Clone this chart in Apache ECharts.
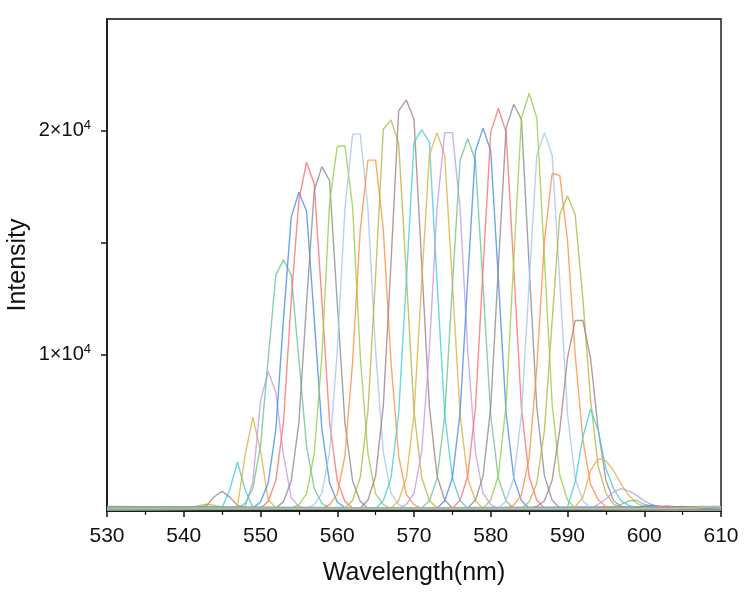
<!DOCTYPE html>
<html>
<head>
<meta charset="utf-8">
<script src="https://cdn.jsdelivr.net/npm/echarts@6/dist/echarts.min.js"></script>
<style>
  html, body { margin: 0; background: #fff; }
  #chart { width: 751px; height: 599px; }
</style>
</head>
<body>
<div id="chart"></div>
<script>
// wavelength axis (nm)
var xMin = 530, xMax = 610, xStep = 10;
// intensity axis
var yMin = 3000, yMax = 25000;
var yLabelValues = [10000, 20000];
var yTickValues = [10000, 15000, 20000];

// line colours, in the order the spectra cycle through them
var palette = ['#4a8de6', '#ff6e6e', '#8c8c8c', '#9acd45', '#a6c6ee', '#ff9040',
               '#b5b545', '#a88080', '#40d0dc', '#e0b040', '#c49ae8', '#6cc490'];

// each spectrum: first wavelength of its listed points (1 nm apart)
var peakStart = [530, 531, 533, 535, 537, 539, 539, 541, 544, 546, 547, 547, 549, 550,
                 552, 554, 556, 558, 561, 563, 565, 567, 568, 571, 573, 575, 577, 579,
                 581, 582, 584, 585, 589, 590, 593, 595, 598, 600, 602, 604, 606];

// intensities around each peak
var peakValues = [
  [3130, 3160, 3140, 3120],
  [3110, 3120, 3150, 3130, 3110],
  [3100, 3110, 3150, 3120, 3100],
  [3120, 3130, 3160, 3130, 3120],
  [3110, 3120, 3160, 3140, 3120, 3110],
  [3100, 3120, 3170, 3190, 3150, 3120, 3100],
  [3100, 3130, 3160, 3240, 3300, 3250, 3170, 3130, 3110],
  [3120, 3140, 3250, 3650, 3880, 3620, 3250, 3150, 3120],
  [3110, 3150, 3950, 5190, 3950, 3150, 3110],
  [3130, 3200, 5500, 7200, 5700, 3500, 3150, 3120],
  [3110, 3200, 4300, 7900, 9240, 8300, 5500, 3600, 3200, 3120],
  [3120, 3340, 4010, 5900, 9790, 13560, 14230, 13560, 9790, 5900, 4010, 3340, 3130],
  [3130, 3400, 4250, 6650, 11600, 16130, 17250, 16400, 11600, 6650, 4250, 3400, 3140],
  [3120, 3430, 4360, 6990, 12400, 16900, 18590, 17620, 12400, 6990, 4360, 3430, 3130],
  [3110, 3430, 4340, 6940, 12290, 17320, 18400, 17770, 12290, 6940, 4340, 3430, 3120],
  [3130, 3280, 3770, 5550, 9920, 16800, 19300, 19330, 16600, 9920, 5550, 3770, 3280, 3120],
  [3120, 3290, 3790, 5630, 10150, 16500, 19850, 19850, 16500, 10150, 5630, 3790, 3290, 3130],
  [3110, 3280, 3740, 5460, 9660, 15580, 18690, 18690, 15580, 9660, 5460, 3740, 3280, 3120],
  [3130, 3470, 4510, 7460, 13540, 20070, 20490, 19450, 13540, 7460, 4510, 3470, 3140],
  [3120, 3490, 4580, 7690, 14080, 20890, 21380, 20520, 14080, 7690, 4580, 3490, 3130],
  [3110, 3460, 4470, 7350, 13280, 19480, 20045, 19500, 13280, 7350, 4470, 3460, 3120],
  [3130, 3460, 4460, 7320, 13200, 18910, 19920, 18910, 13200, 7320, 4460, 3460, 3120],
  [3120, 3290, 3790, 5640, 10180, 16560, 19920, 19920, 16560, 10180, 5640, 3790, 3290, 3110],
  [3130, 3450, 4440, 7260, 13040, 18670, 19660, 18670, 13040, 7260, 4440, 3450, 3120],
  [3120, 3460, 4480, 7370, 13320, 19100, 20120, 19100, 13320, 7370, 4480, 3460, 3130],
  [3110, 3480, 4550, 7590, 13850, 19940, 21010, 19940, 13850, 7590, 4550, 3480, 3120],
  [3130, 3480, 4570, 7640, 13960, 20110, 21190, 20500, 13960, 7640, 4570, 3480, 3130],
  [3120, 3490, 4600, 7760, 14260, 20570, 21680, 20570, 14260, 7760, 4600, 3490, 3120],
  [3110, 3460, 4460, 7320, 13200, 18910, 19920, 18910, 13200, 7320, 4460, 3460, 3130],
  [3120, 3270, 3720, 5370, 9410, 15100, 18090, 18000, 15100, 10000, 6200, 4200, 3500, 3200, 3120],
  [3130, 3400, 4240, 6620, 11510, 16260, 17100, 16260, 12500, 8000, 5000, 3800, 3300, 3130],
  [3120, 3200, 3460, 4380, 6650, 9840, 11520, 11520, 9840, 6650, 4380, 3460, 3200, 3120],
  [3110, 3170, 4300, 6300, 7560, 6600, 4900, 4000, 3450, 3250, 3150, 3120],
  [3120, 3200, 3600, 4800, 5340, 5250, 4800, 4200, 3700, 3350, 3200, 3130],
  [3120, 3300, 3550, 3850, 4000, 3900, 3700, 3450, 3280, 3170, 3120],
  [3110, 3180, 3300, 3460, 3470, 3300, 3200, 3150, 3110],
  [3120, 3150, 3220, 3260, 3220, 3160, 3120],
  [3110, 3140, 3200, 3230, 3190, 3140, 3110],
  [3120, 3130, 3180, 3200, 3170, 3130, 3120],
  [3110, 3130, 3170, 3190, 3160, 3130, 3110],
  [3120, 3130, 3170, 3210, 3180]
];

// flat level of each spectrum at the ends of the range
var baseLevels = [3080, 3160, 3040, 3120, 3190, 3060, 3140, 3100, 3170, 3050, 3130,
                  3090, 3180, 3070, 3150, 3110, 3040, 3160, 3080, 3200, 3060, 3120,
                  3170, 3050, 3140, 3090, 3190, 3070, 3130, 3100, 3160, 3040, 3150,
                  3080, 3120, 3180, 3060, 3110, 3140, 3090, 3130];

var font = 'Liberation Sans, Arial, sans-serif';

function buildSeries() {
  var res = [];
  for (var i = 0; i < peakValues.length; i++) {
    var pts = [];
    var start = peakStart[i];
    var vals = peakValues[i];
    if (start > xMin) pts.push([xMin, baseLevels[i]]);
    for (var k = 0; k < vals.length; k++) {
      pts.push([start + k, vals[k]]);
    }
    if (start + vals.length - 1 < xMax) pts.push([xMax, baseLevels[i]]);
    res.push({
      type: 'line',
      data: pts,
      showSymbol: false,
      silent: true,
      lineStyle: { width: 1.4, opacity: 0.8, color: palette[i % palette.length] }
    });
  }
  return res;
}

var chart = echarts.init(document.getElementById('chart'));
chart.setOption({
  animation: false,
  grid: {
    left: 107, right: 30, top: 19, bottom: 88,
    outerBoundsMode: 'none',
    containLabel: false,
    show: true, borderColor: '#444', borderWidth: 1.8, backgroundColor: 'transparent'
  },
  xAxis: {
    type: 'value',
    min: xMin, max: xMax, interval: xStep,
    name: 'Wavelength(nm)',
    nameLocation: 'middle',
    nameGap: 50,
    nameMoveOverlap: false,
    nameTextStyle: { fontFamily: font, fontSize: 25, color: '#111' },
    axisLine: { show: true, onZero: false, lineStyle: { color: '#111', width: 1.5 } },
    axisTick: { show: true, length: 6, lineStyle: { color: '#111', width: 1.5 } },
    minorTick: { show: true, splitNumber: 2, length: 4, lineStyle: { color: '#111', width: 1.2 } },
    axisLabel: { fontFamily: font, fontSize: 21, color: '#111', margin: 15 },
    splitLine: { show: false }
  },
  yAxis: {
    type: 'value',
    min: yMin, max: yMax,
    name: 'Intensity',
    nameLocation: 'middle',
    nameGap: 76,
    nameMoveOverlap: false,
    nameTextStyle: { fontFamily: font, fontSize: 25, color: '#111' },
    axisLine: { show: true, onZero: false, lineStyle: { color: '#111', width: 1.5 } },
    axisTick: { show: true, length: 6, customValues: yTickValues, lineStyle: { color: '#111', width: 1.5 } },
    axisLabel: {
      customValues: yLabelValues,
      margin: 16,
      formatter: function (v) { return '{m|' + (v / 10000) + '×10}{s|4}'; },
      rich: {
        m: { fontFamily: font, fontSize: 20, color: '#111', lineHeight: 24 },
        s: { fontFamily: font, fontSize: 13, color: '#111', verticalAlign: 'top', lineHeight: 24 }
      }
    },
    splitLine: { show: false }
  },
  series: buildSeries()
});
</script>
</body>
</html>
